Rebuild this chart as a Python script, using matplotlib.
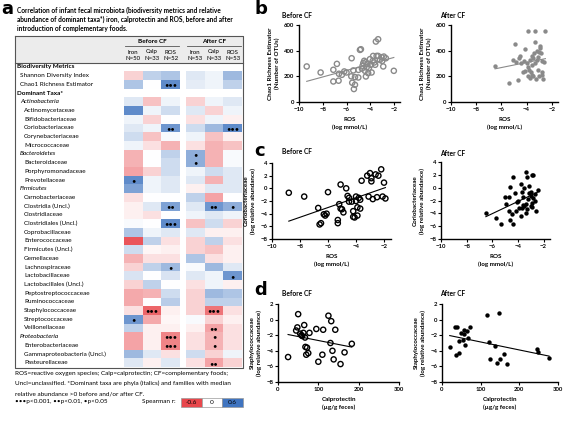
import numpy as np
import matplotlib

matplotlib.use("Agg")
import matplotlib.pyplot as plt
from matplotlib.colors import LinearSegmentedColormap
from matplotlib.patches import Rectangle

W, H = 567, 422
plt.rcParams["font.family"] = ["Lato", "DejaVu Sans"]

# ---- panel a: table of Spearman r ----
row_labels = [
    "Biodiversity Metrics", "Shannon Diversity Index", "Chao1 Richness Estimator",
    "Dominant Taxa*", "Actinobacteria", "Actinomycetaceae", "Bifidobacteriaceae",
    "Coriobacteriaceae", "Corynebacteriaceae", "Micrococcaceae", "Bacteroidetes",
    "Bacteroidaceae", "Porphyromonadaceae", "Prevotellaceae", "Firmicutes",
    "Carnobacteriaceae", "Clostridia (Uncl.)", "Clostridiaceae", "Clostridiales (Uncl.)",
    "Coprobacillaceae", "Enterococcaceae", "Firmicutes (Uncl.)", "Gemellaceae",
    "Lachnospiraceae", "Lactobacillaceae", "Lactobacillales (Uncl.)",
    "Peptostreptococcaceae", "Ruminococcaceae", "Staphylococcaceae", "Streptococcaceae",
    "Veillonellaceae", "Proteobacteria", "Enterobacteriaceae",
    "Gammaproteobacteria (Uncl.)", "Pasteurellaceae",
]
header_rows = ["Biodiversity Metrics", "Dominant Taxa*"]
phyla = ["Actinobacteria", "Bacteroidetes", "Firmicutes", "Proteobacteria"]
metrics = ["Shannon Diversity Index", "Chao1 Richness Estimator"]

nan = np.nan
r_before_iron = [nan, -0.15, 0.25, nan, 0.1, 0.5, 0.05, 0.1, 0.15, 0.05, -0.25, -0.25, -0.3, 0.5,
                 0.4, -0.1, -0.05, -0.05, 0.02, 0.25, -0.55, 0.15, -0.25, -0.15, 0.12, -0.15,
                 -0.28, -0.28, -0.1, 0.45, 0.2, -0.3, -0.3, 0.3, 0.1]
r_before_calp = [nan, 0.2, 0.0, nan, -0.2, 0.05, -0.15, 0.05, -0.2, -0.1, 0.0, 0.0, -0.15, 0.05,
                 0.05, 0.0, 0.1, -0.1, 0.0, 0.05, 0.2, -0.03, -0.1, 0.2, 0.0, 0.2, -0.25, 0.0,
                 -0.5, -0.28, -0.05, -0.05, -0.05, 0.1, -0.05]
r_before_ros = [nan, 0.25, 0.5, nan, 0.05, 0.15, 0.0, 0.45, 0.02, -0.25, 0.2, 0.15, 0.15, 0.1,
                0.1, 0.0, 0.4, 0.0, 0.5, 0.1, -0.1, -0.05, -0.1, 0.3, 0.12, 0.0, 0.15, 0.22,
                -0.05, -0.03, -0.05, -0.4, -0.4, -0.1, 0.1]
r_after_iron = [nan, 0.1, 0.08, nan, -0.15, 0.1, -0.1, 0.15, 0.05, -0.1, 0.35, 0.35, 0.05, 0.1,
                -0.05, 0.2, 0.1, 0.05, -0.2, 0.1, -0.15, -0.15, 0.25, 0.02, 0.1, -0.1, -0.15,
                -0.15, -0.15, 0.02, -0.05, -0.1, -0.1, 0.15, -0.1]
r_after_calp = [nan, 0.05, 0.05, nan, 0.05, -0.15, 0.05, 0.3, -0.2, -0.25, -0.25, -0.25, 0.15,
                -0.25, 0.1, -0.3, 0.45, 0.1, 0.15, -0.05, 0.2, -0.2, -0.1, 0.3, 0.05, 0.05, 0.3,
                0.2, -0.45, -0.15, -0.3, -0.25, -0.25, -0.15, -0.3]
r_after_ros = [nan, 0.3, 0.2, nan, 0.1, 0.05, -0.05, 0.5, -0.05, -0.2, 0.02, 0.02, 0.1, 0.1, 0.1,
               0.0, 0.35, 0.05, -0.15, -0.05, -0.1, -0.05, -0.05, 0.1, 0.45, -0.05, 0.25, 0.2,
               -0.1, -0.05, -0.1, -0.1, -0.1, 0.05, -0.15]

# number of significance dots per row index
sig_before_iron = {13: 1, 29: 1}
sig_before_calp = {28: 3}
sig_before_ros = {2: 3, 7: 2, 16: 2, 18: 3, 23: 1, 31: 3, 32: 3}
sig_after_iron = {10: 1, 11: 1}
sig_after_calp = {16: 2, 28: 3, 30: 2, 31: 1, 32: 1, 34: 2}
sig_after_ros = {7: 3, 16: 1, 24: 1}

col_names = ["Iron", "Calp", "ROS"]
n_before = ["N=50", "N=33", "N=52"]
n_after = ["N=53", "N=33", "N=53"]

# ---- panels b-d: scatter data ----
b_before_ros = [-9.35, -8.18, -7.11, -6.81, -6.64, -7.11, -6.67, -6.39, -6.19, -5.57, -5.43,
                -5.52, -5.29, -5.38, -5.29, -4.87, -4.79, -5.01, -4.65, -4.59, -4.51, -4.37,
                -4.45, -4.31, -4.26, -4.18, -4.12, -4.03, -3.95, -3.89, -3.76, -3.67, -3.59,
                -3.47, -3.53, -3.34, -3.05, -2.86, -2.69, -2.91, -2.02, -3.34, -3.19, -4.7,
                -5.0, -3.8, -4.4, -6.0, -3.0, -5.6]
b_before_chao = [277, 230, 251, 297, 220, 160, 166, 212, 238, 341, 246, 150, 134, 101, 194, 406,
                 411, 191, 282, 303, 321, 199, 243, 269, 295, 225, 264, 334, 290, 230, 359, 308,
                 290, 359, 471, 489, 349, 354, 341, 277, 243, 359, 328, 260, 250, 320, 310, 230,
                 320, 200]

b_after_ros = [-6.5, -5.4, -5.1, -4.9, -4.7, -4.6, -4.5, -4.4, -4.3, -4.2, -4.1, -4.0, -3.9,
               -3.85, -3.8, -3.75, -3.7, -3.65, -3.6, -3.55, -3.5, -3.45, -3.4, -3.35, -3.3,
               -3.25, -3.2, -3.15, -3.1, -3.05, -3.0, -2.95, -2.9, -2.85, -2.8, -2.75, -2.7,
               -2.6, -2.5, -4.8, -4.1, -3.9, -3.6, -3.3, -3.0, -2.8]
b_after_chao = [280, 150, 330, 450, 170, 340, 360, 300, 230, 320, 410, 300, 550, 270, 250, 190,
                330, 230, 290, 210, 340, 200, 380, 470, 550, 180, 400, 330, 250, 350, 200, 420,
                440, 380, 230, 210, 180, 310, 550, 310, 240, 200, 360, 300, 390, 320]

c_before_ros = [-8.8, -7.7, -6.7, -6.6, -6.5, -6.3, -6.2, -6.1, -6.0, -5.3, -5.3, -5.2, -5.1,
                -5.0, -5.1, -4.9, -4.7, -4.6, -4.5, -4.5, -4.3, -4.2, -4.2, -4.1, -4.0, -4.0,
                -3.9, -3.9, -3.8, -3.7, -3.7, -3.6, -3.2, -3.1, -3.0, -2.9, -2.9, -2.8, -2.6,
                -2.5, -2.4, -2.2, -2.1, -1.9, -2.0]
c_before_corio = [-0.7, -1.3, -3.1, -5.7, -5.5, -4.1, -4.3, -4.0, -0.6, -5.0, -5.5, -2.5, -3.2,
                  -3.3, 0.6, -3.8, 0.0, -1.2, -2.1, -1.5, -2.1, -4.5, -3.6, -4.6, -1.3, -2.0,
                  -4.3, -3.0, -1.5, -3.2, -1.8, 1.2, 2.0, -1.3, 2.4, 1.1, 1.6, -1.7, 2.2, -1.4,
                  2.0, 3.0, -1.3, -1.6, 0.9]

c_after_ros = [-6.5, -5.35, -5.7, -5.0, -4.7, -4.6, -4.35, -4.4, -4.6, -4.7, -4.2, -4.1, -4.15,
               -3.8, -3.7, -3.6, -3.35, -3.3, -3.1, -2.9, -2.8, -2.95, -2.46, -2.6, -3.9, -3.5,
               -3.4, -3.2, -3.0, -2.9, -2.8, -2.7, -3.6, -3.3, -3.0, -3.8, -4.5, -4.9, -3.5,
               -3.1, -2.7, -2.9, -3.4, -4.0, -3.7]
c_after_corio = [-4.0, -5.7, -4.7, -1.4, -1.4, -5.1, -5.7, 1.7, 0.1, -3.6, -0.9, -2.3, -3.7,
                 0.6, -3.2, -1.5, 2.5, 1.7, 0.2, 1.9, 1.9, -0.6, -0.4, -3.6, -3.1, -2.9, -2.5,
                 -1.8, -1.3, -2.4, -1.6, -2.0, -2.7, -3.3, -2.8, -4.4, -4.1, -2.5, 0.0, -0.9,
                 -1.0, -3.0, -3.9, -2.0, -0.7]

d_before_calp = [25, 45, 48, 50, 55, 58, 60, 63, 65, 67, 68, 70, 72, 75, 78, 95, 100, 110, 112,
                 125, 130, 132, 135, 138, 142, 155, 165, 183]
d_before_staph = [-4.8, -1.4, -1.0, 0.7, -1.8, -2.0, -2.1, -1.7, -0.7, -2.3, -3.5, -4.5, -3.6,
                  -4.3, -1.7, -1.2, -5.4, -4.5, -1.3, 0.5, -3.0, -0.2, -4.0, -5.1, -1.3, -5.7,
                  -4.2, -3.1]

d_after_calp = [20, 34, 40, 37, 43, 45, 49, 54, 56, 57, 60, 64, 67, 73, 117, 122, 123, 137, 148,
                143, 150, 161, 169, 246, 249, 277]
d_after_staph = [-3.5, -1.0, -0.9, -4.5, -4.3, -2.7, -1.7, -2.6, -1.9, -1.3, -3.3, -1.4, -2.4,
                 -0.9, 0.6, -2.9, -5.1, -3.4, 0.8, -5.6, -5.1, -4.4, -5.7, -3.8, -4.1, -4.9]

cmap = LinearSegmentedColormap.from_list("rwb", ["#E8474C", "#FFFFFF", "#3F74C0"])


def px_axes(fig, x0, y0, x1, y1):
    return fig.add_axes([x0 / W, 1 - y1 / H, (x1 - x0) / W, (y1 - y0) / H])


def draw_block(fig, x0, x1, top, bottom, cols, sigs):
    ax = px_axes(fig, x0, top, x1, bottom)
    data = np.ma.masked_invalid(np.array(cols, dtype=float).T)
    ax.pcolormesh(data, cmap=cmap, vmin=-0.6, vmax=0.6)
    ax.set_xlim(0, 3)
    ax.set_ylim(len(row_labels), 0)
    ax.axis("off")
    for j, sig in enumerate(sigs):
        for i, n in sig.items():
            ax.text(j + 0.5, i + 0.55, "\u2022" * n, ha="center", va="center",
                    fontsize=5.5, color="black")


def scatter_panel(fig, box, x, y, kind, color, xlim, xticks, ylim, yticks, xlabel, ylabel):
    ax = px_axes(fig, *box)
    x = np.array(x)
    y = np.array(y)
    if kind == "open":
        ax.scatter(x, y, s=14, facecolors="none", edgecolors=color, linewidths=1.0, zorder=3)
    else:
        ax.scatter(x, y, s=10, color=color, linewidths=0, zorder=3)
    fit = np.polyfit(x, y, 1)
    xs = np.array([x.min(), x.max()])
    ax.plot(xs, np.polyval(fit, xs), color=color, lw=0.8, zorder=2)
    ax.set_xlim(*xlim)
    ax.set_ylim(*ylim)
    ax.set_xticks(xticks)
    ax.set_yticks(yticks)
    for s in ["top", "right"]:
        ax.spines[s].set_visible(False)
    for s in ["left", "bottom"]:
        ax.spines[s].set_linewidth(1.0)
    ax.tick_params(direction="out", length=2, width=0.8, labelsize=4.3, pad=1.5)
    for lab in ax.get_xticklabels() + ax.get_yticklabels():
        lab.set_fontweight("bold")
    ax.set_xlabel(xlabel, fontsize=4.5, fontweight="bold", labelpad=4, linespacing=1.5)
    ax.set_ylabel(ylabel, fontsize=4.5, fontweight="bold", labelpad=3, linespacing=1.4)
    return ax


fig = plt.figure(figsize=(W / 100, H / 100), dpi=100)
bg = fig.add_axes([0, 0, 1, 1])
bg.set_xlim(0, W)
bg.set_ylim(H, 0)
bg.axis("off")

# panel letters
for letter, (lx, ly) in {"a": (1, 9), "b": (254, 9), "c": (254, 151), "d": (254, 290)}.items():
    bg.text(lx, ly, letter, fontsize=13, fontweight="bold", family="DejaVu Sans",
            va="center", ha="left")

title_lines = [
    "Correlation of infant fecal microbiota (biodiversity metrics and relative",
    "abundance of dominant taxa*) iron, calprotectin and ROS, before and after",
    "introduction of complementary foods.",
]
for k, line in enumerate(title_lines):
    bg.text(17, 10 + 9 * k, line, fontsize=4.7, fontweight="bold", va="center", ha="left")

# table frame and header
top, row_h = 62.6, 8.7
bottom = top + row_h * len(row_labels)
bg.add_patch(Rectangle((15, 36), 228, 27, facecolor="#ECECEC", edgecolor="none"))
bg.plot([15, 15, 243, 243, 15], [36, bottom + 1, bottom + 1, 36, 36], color="#555555", lw=0.8)
bg.plot([15, 243], [63, 63], color="#555555", lw=0.8)
for name, x0, ns in [("Before CF", 124, n_before), ("After CF", 186, n_after)]:
    bg.text(x0 + 28, 41.5, name, fontsize=4.6, fontweight="bold", ha="center", va="center")
    bg.plot([x0 + 1, x0 + 55], [46, 46], color="#555555", lw=0.6)
    for j in range(3):
        cx = x0 + 9.3 + 18.7 * j
        bg.text(cx, 52, col_names[j], fontsize=4.4, ha="center", va="center")
        bg.text(cx, 58.5, ns[j], fontsize=4.4, ha="center", va="center")

for i, lab in enumerate(row_labels):
    y = top + row_h * (i + 0.5)
    if lab in header_rows:
        bg.text(17, y, lab, fontsize=4.6, fontweight="bold", va="center")
    elif lab in phyla:
        bg.text(20, y, lab, fontsize=4.6, style="italic", va="center")
    elif lab in metrics:
        bg.text(20, y, lab, fontsize=4.6, va="center")
    else:
        bg.text(24, y, lab, fontsize=4.6, va="center")

draw_block(fig, 124, 180, top, bottom, [r_before_iron, r_before_calp, r_before_ros],
           [sig_before_iron, sig_before_calp, sig_before_ros])
draw_block(fig, 186, 242, top, bottom, [r_after_iron, r_after_calp, r_after_ros],
           [sig_after_iron, sig_after_calp, sig_after_ros])

notes = [
    "ROS=reactive oxygen species; Calp=calprotectin; CF=complementary foods;",
    "Uncl=unclassified. *Dominant taxa are phyla (italics) and families with median",
    "relative abundance >0 before and/or after CF.",
]
for k, line in enumerate(notes):
    bg.text(15, 373.5 + 10 * k, line, fontsize=4.6, va="center")
bg.text(15, 402, "\u2022\u2022\u2022p<0.001, \u2022\u2022p<0.01, \u2022p<0.05", fontsize=4.6,
        va="center")
bg.text(176, 402, "Spearman r:", fontsize=4.6, va="center", ha="right")
for k, val in enumerate([-0.6, 0.0, 0.6]):
    x0 = 181 + 20.5 * k
    bg.add_patch(Rectangle((x0, 397.5), 20.5, 9, facecolor=cmap((val + 0.6) / 1.2),
                           edgecolor="#9A9A9A", lw=0.5))
    bg.text(x0 + 10.25, 402, f"{val:g}", fontsize=4.6, ha="center", va="center")

# panel titles
for tx, ty, t in [(282, 15, "Before CF"), (440, 15, "After CF"), (282, 151, "Before CF"),
                  (440, 153, "After CF"), (282, 293, "Before CF"), (440, 294, "After CF")]:
    bg.text(tx, ty, t, fontsize=4.8, fontweight="bold", va="center")

ros_ticks = [-10, -8, -6, -4, -2]
scatter_panel(fig, (299, 25, 400, 102), b_before_ros, b_before_chao, "open", "#8A8A8A",
              (-10, -1.5), ros_ticks, (0, 600), [0, 200, 400, 600], "ROS\n(log mmol/L)",
              "Chao1 Richness Estimator\n(Number of OTUs)")
scatter_panel(fig, (451, 25, 558, 102), b_after_ros, b_after_chao, "filled", "#8A8A8A",
              (-10, -1.5), ros_ticks, (0, 600), [0, 200, 400, 600], "ROS\n(log mmol/L)",
              "Chao1 Richness Estimator\n(Number of OTUs)")
scatter_panel(fig, (272, 163, 391, 239), c_before_ros, c_before_corio, "open", "black",
              (-10, -1.5), ros_ticks, (-8, 4), [-8, -6, -4, -2, 0, 2, 4], "ROS\n(log mmol/L)",
              "Coriobacteriaceae\n(log relative abundance)")
scatter_panel(fig, (441, 162, 550, 239), c_after_ros, c_after_corio, "filled", "black",
              (-10, -1.5), ros_ticks, (-8, 4), [-8, -6, -4, -2, 0, 2, 4], "ROS\n(log mmol/L)",
              "Coriobacteriaceae\n(log relative abundance)")
scatter_panel(fig, (278, 304, 399, 382), d_before_calp, d_before_staph, "open", "black",
              (0, 300), [0, 100, 200, 300], (-8, 2), [-8, -6, -4, -2, 0, 2],
              "Calprotectin\n(\u00b5g/g feces)", "Staphylococcaceae\n(log relative abundance)")
scatter_panel(fig, (442, 304, 558, 382), d_after_calp, d_after_staph, "filled", "black",
              (0, 300), [0, 100, 200, 300], (-8, 2), [-8, -6, -4, -2, 0, 2],
              "Calprotectin\n(\u00b5g/g feces)", "Staphylococcaceae\n(log relative abundance)")

fig.savefig("out.png", dpi=100)
